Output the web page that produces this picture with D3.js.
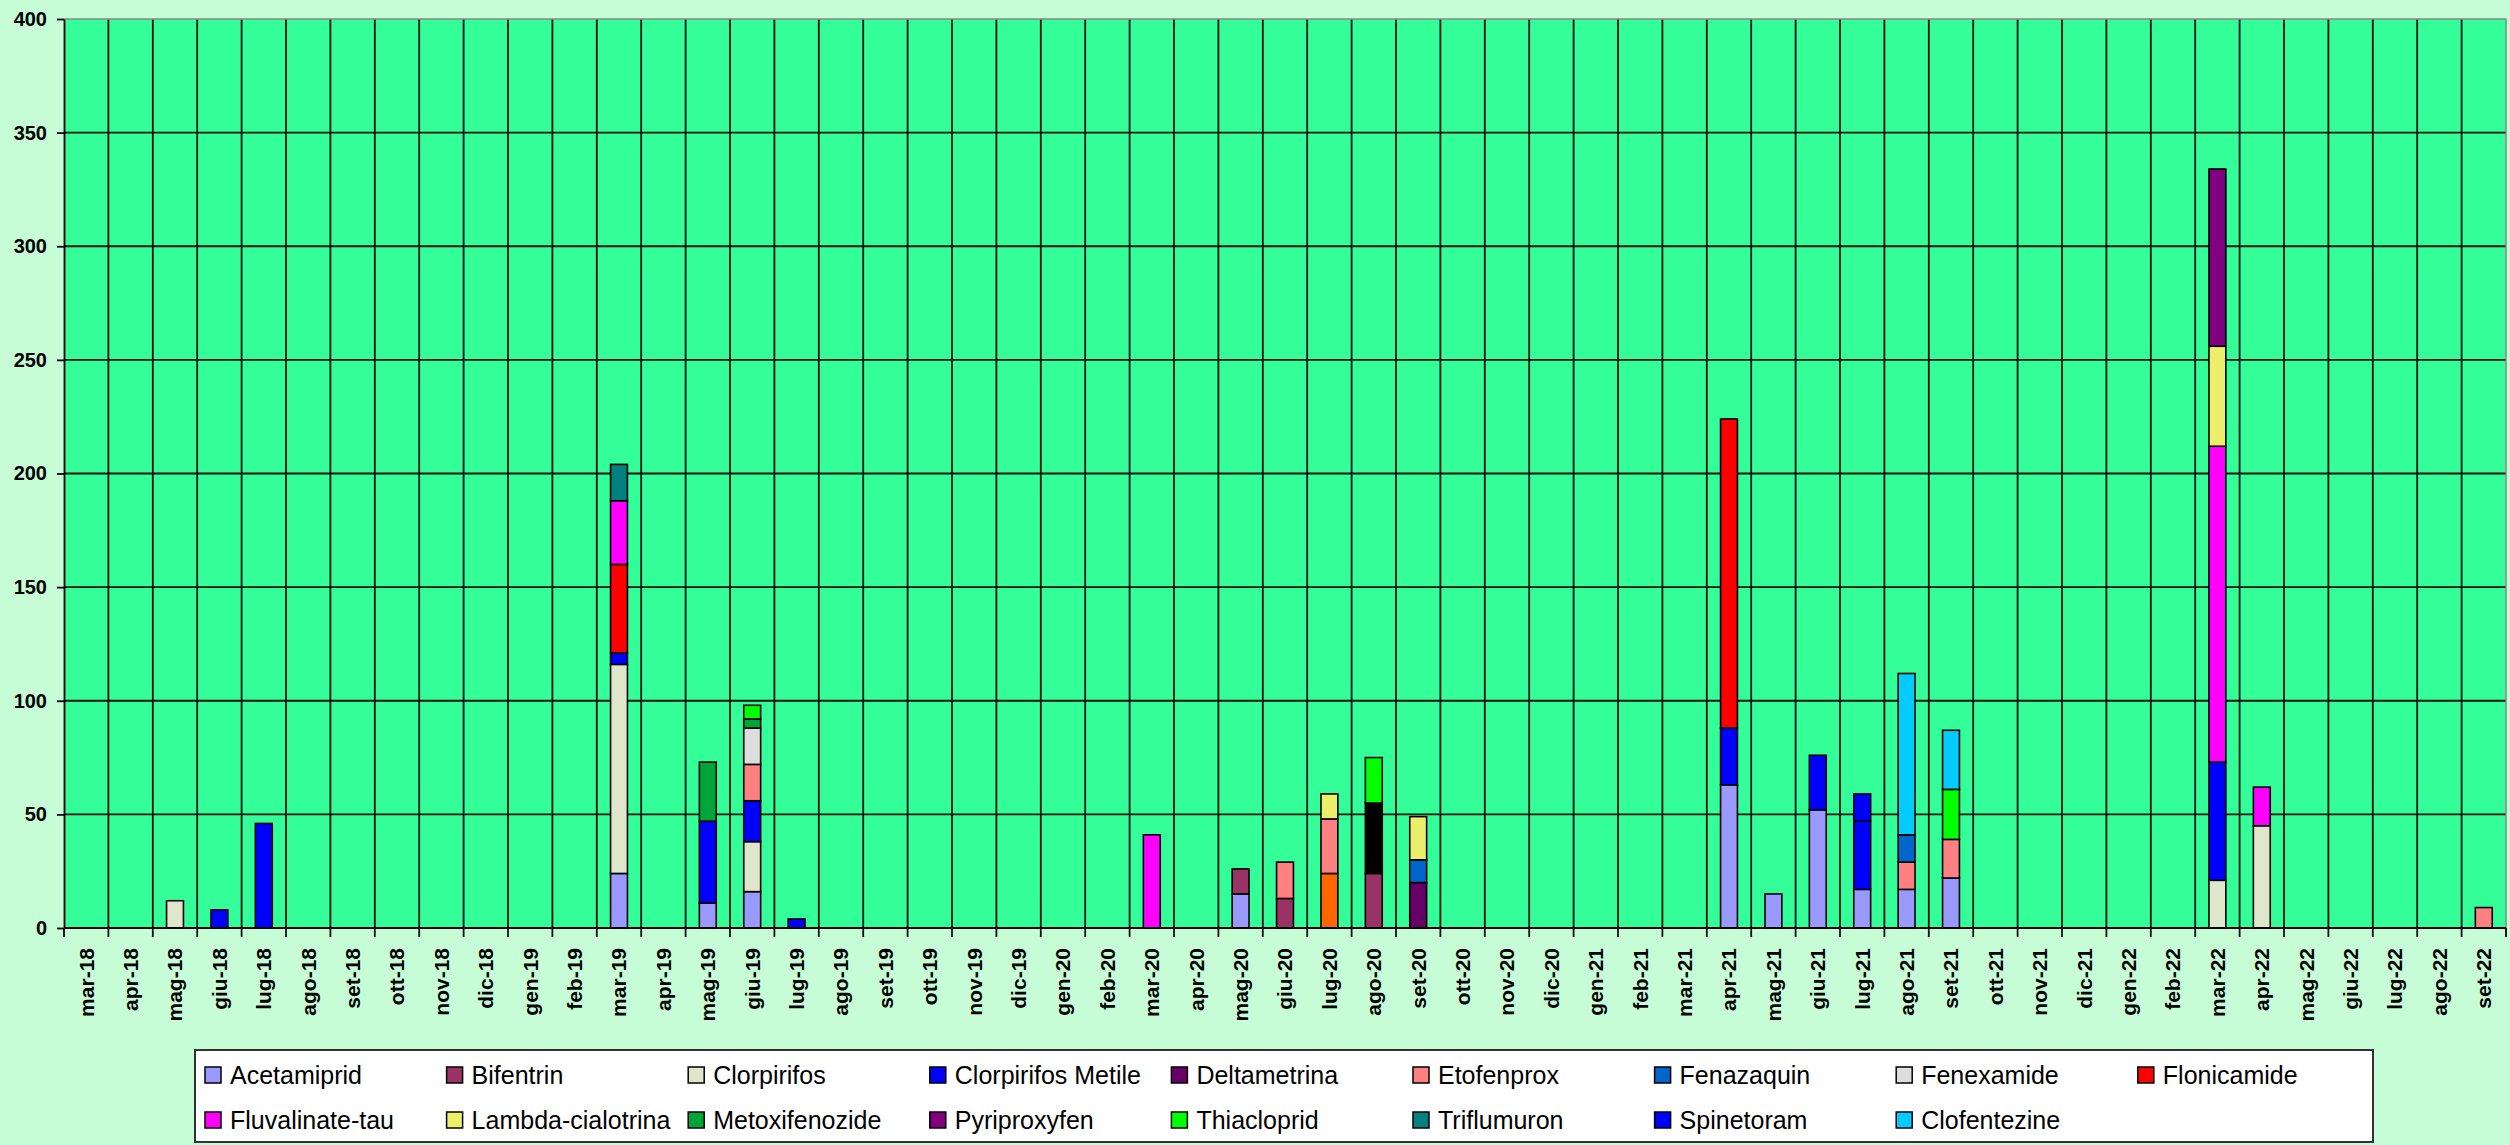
<!DOCTYPE html>
<html>
<head>
<meta charset="utf-8">
<script src="https://cdn.jsdelivr.net/npm/d3@7"></script>
<style>
  body { margin: 0; background: #c6fdd6; }
  svg { display: block; font-family: "Liberation Sans", Arial, sans-serif; }
</style>
</head>
<body>
<svg id="chart" width="2510" height="1145"></svg>
<script>
// months on the x axis
var months = ["mar-18","apr-18","mag-18","giu-18","lug-18","ago-18","set-18","ott-18","nov-18","dic-18",
  "gen-19","feb-19","mar-19","apr-19","mag-19","giu-19","lug-19","ago-19","set-19","ott-19","nov-19","dic-19",
  "gen-20","feb-20","mar-20","apr-20","mag-20","giu-20","lug-20","ago-20","set-20","ott-20","nov-20","dic-20",
  "gen-21","feb-21","mar-21","apr-21","mag-21","giu-21","lug-21","ago-21","set-21","ott-21","nov-21","dic-21",
  "gen-22","feb-22","mar-22","apr-22","mag-22","giu-22","lug-22","ago-22","set-22"];

var yTicks = [0, 50, 100, 150, 200, 250, 300, 350, 400];

// values per active substance (only months with a value)
var acetamiprid = [["mar-19",24],["mag-19",11],["giu-19",16],["mag-20",15],["apr-21",63],["mag-21",15],["giu-21",52],["lug-21",17],["ago-21",17],["set-21",22]];
var bifentrin = [["mag-20",11],["giu-20",13],["ago-20",24]];
var clorpirifos = [["mag-18",12],["mar-19",92],["giu-19",22],["mar-22",21],["apr-22",45]];
var clorpirifosMetile = [["giu-18",8],["lug-18",46],["mar-19",5],["mag-19",36],["giu-19",18],["lug-19",4],["apr-21",25],["giu-21",24],["lug-21",30],["mar-22",52]];
var deltametrina = [["set-20",20]];
var serieArancio = [["lug-20",24]];   // not in legend
var serieNera = [["ago-20",31]];      // not in legend
var etofenprox = [["giu-19",16],["giu-20",16],["lug-20",24],["ago-21",12],["set-21",17],["set-22",9]];
var fenazaquin = [["set-20",10],["ago-21",12]];
var fenexamide = [["giu-19",16]];
var flonicamide = [["mar-19",39],["apr-21",136]];
var fluvalinate = [["mar-19",28],["mar-20",41],["mar-22",139],["apr-22",17]];
var lambda = [["lug-20",11],["set-20",19],["mar-22",44]];
var metoxifenozide = [["mag-19",26],["giu-19",4]];
var pyriproxyfen = [["mar-22",78]];
var thiacloprid = [["giu-19",6],["ago-20",20],["set-21",22]];
var triflumuron = [["mar-19",16]];
var spinetoram = [["lug-21",12]];
var clofentezine = [["ago-21",71],["set-21",26]];

// stacking order, bottom to top
var series = [
  {key: "Acetamiprid", vals: acetamiprid, color: "#9999ff", legend: true},
  {key: "Bifentrin", vals: bifentrin, color: "#993366", legend: true},
  {key: "Clorpirifos", vals: clorpirifos, color: "#e0e6ca", legend: true},
  {key: "Clorpirifos Metile", vals: clorpirifosMetile, color: "#0000ff", legend: true},
  {key: "Deltametrina", vals: deltametrina, color: "#660066", legend: true},
  {key: "s_orange", vals: serieArancio, color: "#ff6600", legend: false},
  {key: "s_black", vals: serieNera, color: "#000000", legend: false},
  {key: "Etofenprox", vals: etofenprox, color: "#ff8080", legend: true},
  {key: "Fenazaquin", vals: fenazaquin, color: "#0066cc", legend: true},
  {key: "Fenexamide", vals: fenexamide, color: "#dddddd", legend: true},
  {key: "Flonicamide", vals: flonicamide, color: "#ff0000", legend: true},
  {key: "Fluvalinate-tau", vals: fluvalinate, color: "#ff00ff", legend: true},
  {key: "Lambda-cialotrina", vals: lambda, color: "#ecef6c", legend: true},
  {key: "Metoxifenozide", vals: metoxifenozide, color: "#00a53a", legend: true},
  {key: "Pyriproxyfen", vals: pyriproxyfen, color: "#800080", legend: true},
  {key: "Thiacloprid", vals: thiacloprid, color: "#00ff00", legend: true},
  {key: "Triflumuron", vals: triflumuron, color: "#008080", legend: true},
  {key: "Spinetoram", vals: spinetoram, color: "#0000ff", legend: true},
  {key: "Clofentezine", vals: clofentezine, color: "#00ccff", legend: true}
];

// build table rows: one per month
var table = months.map(function (m) {
  var row = {month: m};
  series.forEach(function (s) { row[s.key] = 0; });
  return row;
});
series.forEach(function (s) {
  s.vals.forEach(function (p) {
    table[months.indexOf(p[0])][s.key] = p[1];
  });
});

var svg = d3.select("#chart");
var plot = {l: 64, r: 2506, t: 19, b: 928};

var x = d3.scaleBand().domain(months).range([plot.l, plot.r]).padding(0);
var y = d3.scaleLinear().domain([0, 400]).range([plot.b, plot.t]);

// plot background
svg.append("rect")
  .attr("x", plot.l).attr("y", plot.t)
  .attr("width", plot.r - plot.l).attr("height", plot.b - plot.t)
  .attr("fill", "#33fe97");

// horizontal gridlines
svg.append("g").selectAll("line")
  .data(yTicks.slice(1, -1))
  .enter().append("line")
  .attr("x1", plot.l).attr("x2", plot.r)
  .attr("y1", function (d) { return y(d); }).attr("y2", function (d) { return y(d); })
  .attr("stroke", "#111").attr("stroke-width", 1.8);

// vertical gridlines at month boundaries
svg.append("g").selectAll("line")
  .data(months.slice(1))
  .enter().append("line")
  .attr("x1", function (d) { return x(d); }).attr("x2", function (d) { return x(d); })
  .attr("y1", plot.t).attr("y2", plot.b + 9)
  .attr("stroke", "#111").attr("stroke-width", 1.8);

// plot border top/right (grey)
svg.append("path")
  .attr("d", "M" + plot.l + "," + plot.t + "H" + plot.r + "V" + plot.b)
  .attr("fill", "none").attr("stroke", "#888").attr("stroke-width", 1.5);

// stacked bars
var stack = d3.stack().keys(series.map(function (s) { return s.key; }));
var layers = stack(table);
var barW = x.bandwidth() * 0.38;

svg.append("g").selectAll("g")
  .data(layers)
  .enter().append("g")
  .attr("fill", function (d, i) { return series[i].color; })
  .selectAll("rect")
  .data(function (d) { return d.filter(function (p) { return p[1] - p[0] > 0; }); })
  .enter().append("rect")
  .attr("x", function (d) { return x(d.data.month) + (x.bandwidth() - barW) / 2; })
  .attr("width", barW)
  .attr("y", function (d) { return y(d[1]); })
  .attr("height", function (d) { return y(d[0]) - y(d[1]); })
  .attr("stroke", "#000").attr("stroke-width", 1.6);

// y axis
var yAxis = svg.append("g")
  .attr("transform", "translate(" + plot.l + ",0)")
  .call(d3.axisLeft(y).tickValues(yTicks).tickSize(7).tickSizeOuter(0).tickPadding(10));
yAxis.selectAll("path, line").attr("stroke", "#000").attr("stroke-width", 1.8);
yAxis.selectAll("text").attr("font-size", 20).attr("font-weight", "bold").attr("fill", "#000")
  .attr("font-family", "Liberation Sans, Arial, sans-serif");

// x axis line + ticks
svg.append("line")
  .attr("x1", plot.l).attr("x2", plot.r).attr("y1", plot.b).attr("y2", plot.b)
  .attr("stroke", "#000").attr("stroke-width", 1.8);
svg.append("g").selectAll("line")
  .data([plot.l, plot.r])
  .enter().append("line")
  .attr("x1", function (d) { return d; }).attr("x2", function (d) { return d; })
  .attr("y1", plot.b).attr("y2", plot.b + 9)
  .attr("stroke", "#000").attr("stroke-width", 1.8);

// x labels, rotated
svg.append("g").selectAll("text")
  .data(months)
  .enter().append("text")
  .attr("transform", function (d) {
    return "translate(" + (x(d) + x.bandwidth() / 2) + "," + (plot.b + 20) + ") rotate(-90)";
  })
  .attr("text-anchor", "end")
  .attr("dy", "0.35em")
  .attr("font-size", 21)
  .attr("font-weight", "bold")
  .attr("fill", "#000")
  .text(function (d) { return d; });

// legend
var legendItems = series.filter(function (s) { return s.legend; });
var lg = svg.append("g");
lg.append("rect")
  .attr("x", 195).attr("y", 1050).attr("width", 2178).attr("height", 92)
  .attr("fill", "#fff").attr("stroke", "#333").attr("stroke-width", 2);

var cols = 9, colW = 241.6;
var item = lg.selectAll(".item")
  .data(legendItems)
  .enter().append("g")
  .attr("class", "item")
  .attr("transform", function (d, i) {
    return "translate(" + (205 + (i % cols) * colW) + "," + (1075 + Math.floor(i / cols) * 45) + ")";
  });
item.append("rect")
  .attr("x", 0).attr("y", -8).attr("width", 16).attr("height", 16)
  .attr("fill", function (d) { return d.color; })
  .attr("stroke", "#000").attr("stroke-width", 1.5);
item.append("text")
  .attr("x", 25).attr("dy", "0.35em")
  .attr("font-size", 25)
  .attr("fill", "#000")
  .text(function (d) { return d.key; });
</script>
</body>
</html>
